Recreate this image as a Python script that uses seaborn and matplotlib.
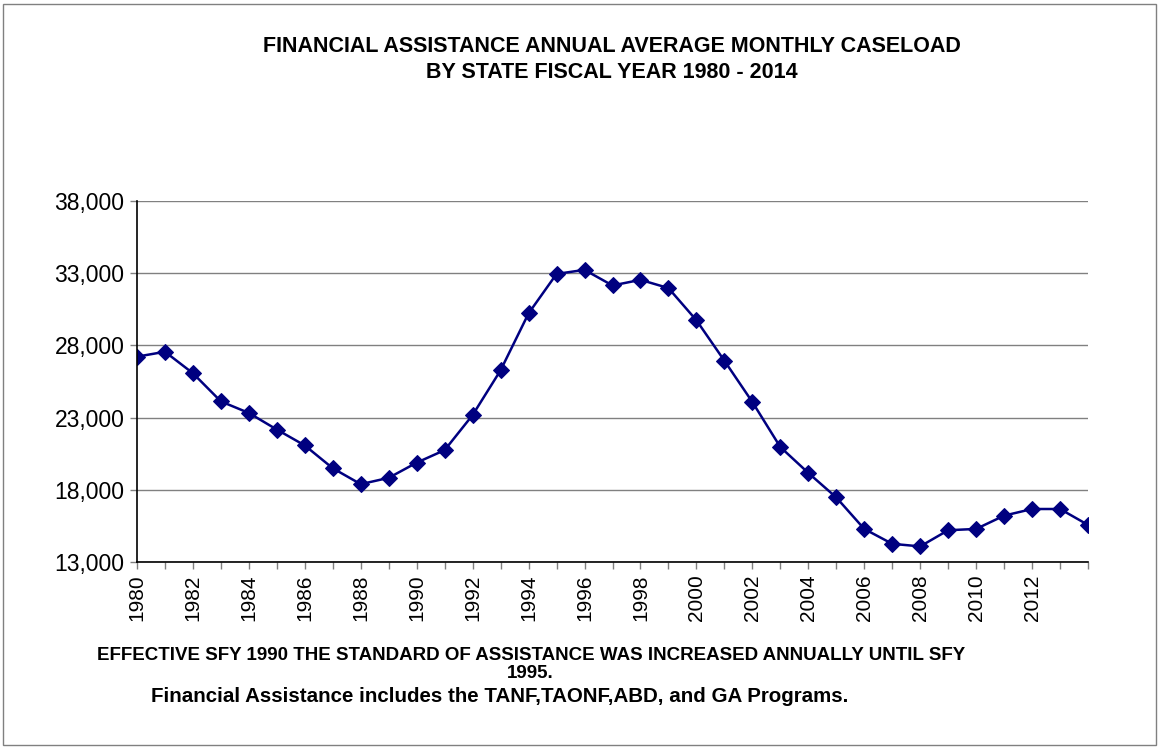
import matplotlib
matplotlib.use("Agg")
import matplotlib.pyplot as plt
import seaborn as sns
import pandas as pd
from matplotlib.patches import Rectangle

# caseload data
years = list(range(1980, 2015))
caseload = [27220, 27560, 26070, 24120, 23320, 22170, 21070, 19490, 18390, 18830,
            19880, 20750, 23180, 26280, 30220, 32950, 33230, 32150, 32540, 31970,
            29740, 26940, 24080, 20960, 19170, 17470, 15290, 14260, 14080, 15200,
            15290, 16210, 16670, 16670, 15570]
y_ticks = [13000, 18000, 23000, 28000, 33000, 38000]
x_labels = list(range(1980, 2013, 2))

title1 = "FINANCIAL ASSISTANCE ANNUAL AVERAGE MONTHLY CASELOAD"
title2 = "BY STATE FISCAL YEAR 1980 - 2014"
note1 = "EFFECTIVE SFY 1990 THE STANDARD OF ASSISTANCE WAS INCREASED ANNUALLY UNTIL SFY"
note1b = "1995."
note2 = "Financial Assistance includes the TANF,TAONF,ABD, and GA Programs."

df = pd.DataFrame({"year": years, "caseload": caseload})

sns.set_style("white")
plt.rcParams['font.family'] = ['Liberation Sans', 'DejaVu Sans']
plt.rcParams['text.color'] = 'black'

fig = plt.figure(figsize=(11.59, 7.48), dpi=100)
ax = fig.add_axes([137/1159, 1 - 562/748, (1088 - 137)/1159, (562 - 201)/748])

sns.lineplot(data=df, x="year", y="caseload", ax=ax, color="#000080",
             marker="D", markersize=8.5, linewidth=1.8, markeredgecolor="#000080")

ax.set_xlim(1980, 2014)
ax.set_ylim(13000, 38000)
ax.set_yticks(y_ticks)
ax.set_yticklabels([f"{v:,}" for v in y_ticks], fontsize=16.5)
ax.set_xticks(years)
ax.set_xticklabels([str(y) if y in x_labels else "" for y in years],
                   rotation=90, fontsize=15)
ax.set_xlabel("")
ax.set_ylabel("")

ax.yaxis.grid(True, color="#808080", linewidth=1)
ax.set_axisbelow(True)
for s in ["top", "right"]:
    ax.spines[s].set_visible(False)
for s in ["left", "bottom"]:
    ax.spines[s].set_color("black")
    ax.spines[s].set_linewidth(1.2)
ax.tick_params(axis="both", which="major", direction="out", length=5,
               width=1, color="#808080", labelcolor="black",
               left=True, bottom=True, pad=4)

fig.text(612/1159, 1 - 47/748, title1, ha="center", va="center", fontsize=15.5,
         fontweight="bold")
fig.text(612/1159, 1 - 72/748, title2, ha="center", va="center", fontsize=15.5,
         fontweight="bold")
fig.text(531/1159, 1 - 655/748, note1, ha="center", va="center", fontsize=13.5,
         fontweight="bold")
fig.text(530/1159, 1 - 674/748, note1b, ha="center", va="center", fontsize=13.5,
         fontweight="bold")
fig.text(500/1159, 1 - 697/748, note2, ha="center", va="center", fontsize=14.8,
         fontweight="bold")

# outer chart border
fig.patches.append(Rectangle((3/1159, 3/748), 1153/1159, 741/748,
                             transform=fig.transFigure, fill=False,
                             edgecolor="#808080", linewidth=1))

fig.savefig("out.png", dpi=100)
